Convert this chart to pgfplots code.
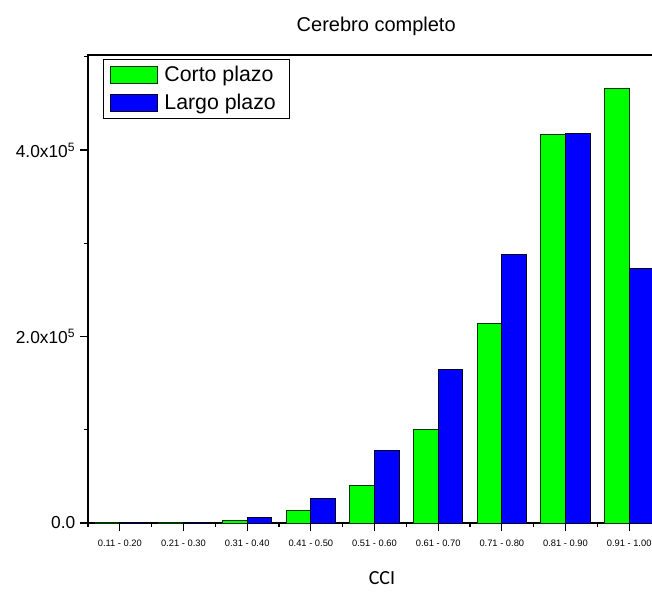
\documentclass[border=0pt]{standalone}
\usepackage{fontspec}
\setmainfont{Liberation Sans}
\newfontfamily\calib{Carlito}
\usepackage{pgfplots}
\pgfplotsset{compat=1.18}
\definecolor{cgreen}{RGB}{0,255,0}
\definecolor{cblue}{RGB}{0,0,255}
\begin{document}
\begin{tikzpicture}
\begin{axis}[
  name=ax,
  scale only axis,
  width=429.75pt, height=351pt,
  xmin=-0.5, xmax=8.5, ymin=0, ymax=5.02e5,
  axis line style={line width=1pt},
  tick align=outside,
  xtick pos=bottom, ytick pos=left,
  xtick={0,1,2,3,4,5,6,7,8},
  xticklabels={0.11 - 0.20,0.21 - 0.30,0.31 - 0.40,0.41 - 0.50,0.51 - 0.60,0.61 - 0.70,0.71 - 0.80,0.81 - 0.90,0.91 - 1.00},
  minor xtick={-0.5,0.5,1.5,2.5,3.5,4.5,5.5,6.5,7.5,8.5},
  ytick={0,200000,400000},
  yticklabels={0.0,2.0x10\textsuperscript{5},4.0x10\textsuperscript{5}},
  minor ytick={100000,300000,500000},
  scaled y ticks=false,
  major tick length=6pt, minor tick length=2.75pt,
  every tick/.style={line width=0.9pt, black},
  xticklabel style={font=\fontsize{7}{8}\selectfont, yshift=-3.5pt},
  yticklabel style={font=\fontsize{13}{15}\selectfont},
  title={Cerebro completo},
  title style={at={(axis description cs:0.503,1)}, anchor=base, yshift=11.25pt, font=\fontsize{15}{18}\selectfont},
  xlabel={\calib CCI},
  xlabel style={at={(axis description cs:0.513,0)}, anchor=center, yshift=-41.25pt, font=\fontsize{15}{18}\selectfont},
  legend style={at={(axis description cs:0.026,0.991)}, anchor=north west, draw=black, line width=0.75pt,
    font=\fontsize{16}{19}\selectfont, row sep=4pt, inner xsep=5pt, inner ysep=3pt,
    nodes={inner xsep=5pt}},
  legend cell align=left,
  legend image code/.code={\draw[#1, line width=0.75pt] (0pt,-6.4pt) rectangle (35pt,6.4pt);},
  bar width=0.39,
]
\addplot[ybar, bar shift=-0.195, fill=cgreen, draw=black!80!green, line width=0.75pt] coordinates {
  (0,100) (1,500) (2,2400) (3,12900) (4,40600) (5,100000) (6,214000) (7,416500) (8,465800)};
\addlegendentry{Corto plazo}
\addplot[ybar, bar shift=0.195, fill=cblue, draw=black!85!blue, line width=0.75pt] coordinates {
  (0,150) (1,1000) (2,6000) (3,26000) (4,77300) (5,164800) (6,287500) (7,418000) (8,273500)};
\addlegendentry{Largo plazo}
\end{axis}
\pgfresetboundingbox
\path[use as bounding box] ([shift={(-66pt,-52.5pt)}]ax.south west) rectangle ([shift={(423pt,392.25pt)}]ax.south west);
\end{tikzpicture}
\end{document}
